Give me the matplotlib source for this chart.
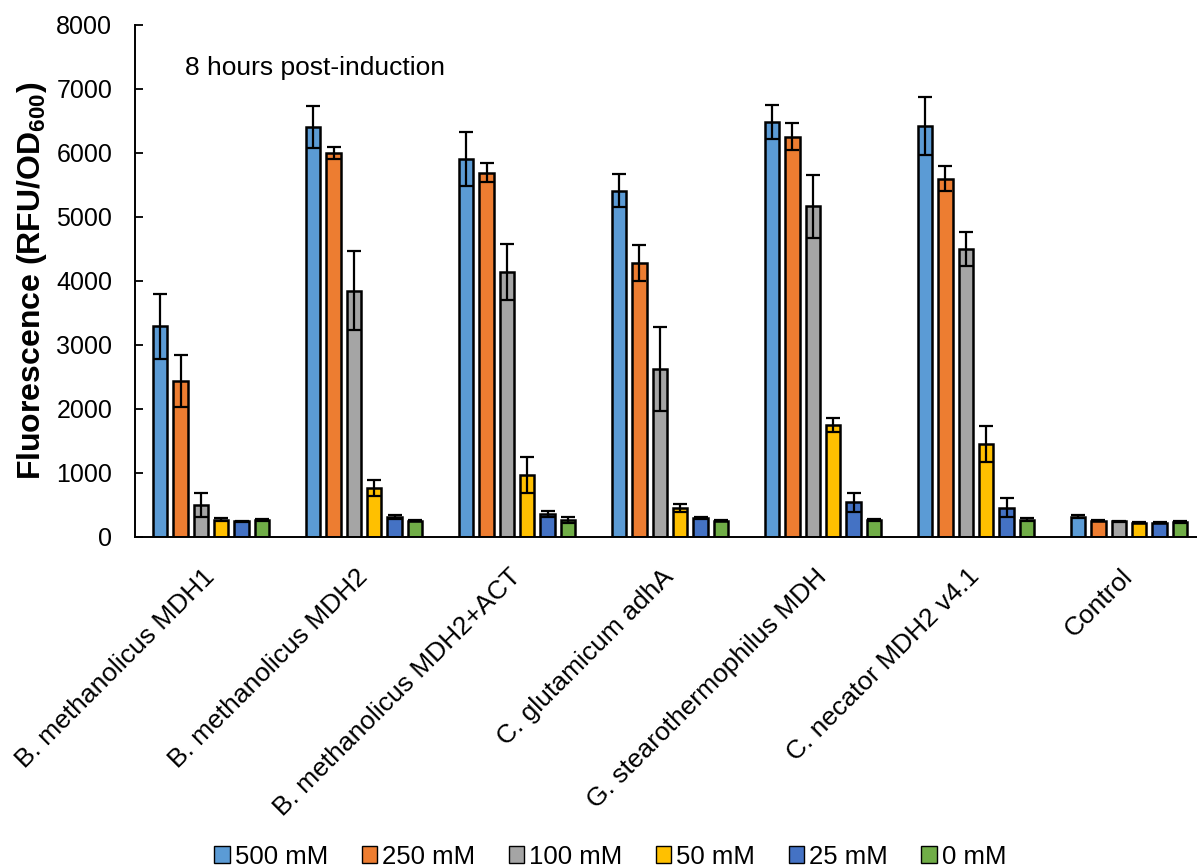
import matplotlib

matplotlib.use("Agg")
import matplotlib.pyplot as plt
import numpy as np
from matplotlib.patches import Patch

plt.rcParams["font.family"] = ["Liberation Sans", "DejaVu Sans"]
plt.rcParams["mathtext.fontset"] = "custom"
plt.rcParams["mathtext.rm"] = "Liberation Sans"
plt.rcParams["mathtext.bf"] = "Liberation Sans:bold"

strains = [
    "B. methanolicus MDH1",
    "B. methanolicus MDH2",
    "B. methanolicus MDH2+ACT",
    "C. glutamicum adhA",
    "G. stearothermophilus MDH",
    "C. necator MDH2 v4.1",
    "Control",
]
conc_labels = ["500 mM", "250 mM", "100 mM", "50 mM", "25 mM", "0 mM"]

# mean fluorescence per methanol concentration, one value per strain
mm500 = [3290, 6400, 5900, 5410, 6480, 6420, 315]
mm250 = [2430, 5995, 5690, 4280, 6255, 5595, 250]
mm100 = [495, 3845, 4135, 2625, 5165, 4500, 240]
mm50 = [265, 760, 970, 445, 1740, 1450, 220]
mm25 = [240, 305, 355, 295, 535, 455, 220]
mm0 = [255, 250, 265, 250, 265, 265, 230]

# standard deviations
mm500_err = [505, 330, 420, 260, 270, 450, 25]
mm250_err = [405, 95, 150, 285, 210, 195, 10]
mm100_err = [195, 620, 440, 655, 490, 270, 10]
mm50_err = [20, 125, 280, 60, 110, 280, 10]
mm25_err = [10, 30, 45, 15, 145, 150, 10]
mm0_err = [15, 10, 45, 10, 15, 25, 10]

series = [mm500, mm250, mm100, mm50, mm25, mm0]
errors = [mm500_err, mm250_err, mm100_err, mm50_err, mm25_err, mm0_err]
colors = ["#5B9BD5", "#ED7D31", "#A5A5A5", "#FFC000", "#4472C4", "#70AD47"]

fig = plt.figure(figsize=(11.97, 8.67), dpi=100)
ax = fig.add_axes([0.1124, 0.381, 0.8947, 0.5902])

x = np.arange(len(strains))
pitch = 0.133
width = 0.095
for j, (vals, errs, col) in enumerate(zip(series, errors, colors)):
    pos = x + (j - 2.5) * pitch
    ax.bar(pos, vals, width=width, color=col, edgecolor="black", linewidth=1.8, zorder=2)
    ax.errorbar(pos, vals, yerr=errs, fmt="none", ecolor="black", elinewidth=1.6,
                capsize=5.2, capthick=1.6, zorder=3)

ax.set_xlim(-0.5, len(strains) - 0.5)
ax.set_ylim(0, 8000)
ax.set_yticks(np.arange(0, 8001, 1000))
ax.tick_params(axis="y", direction="in", length=6, width=1.3, labelsize=18, pad=16)
ax.set_xticks(x)
ax.set_xticklabels(strains, rotation=45, ha="right", va="center",
                   rotation_mode="anchor", fontsize=19)
ax.tick_params(axis="x", length=0, pad=26)

for side in ("top", "right"):
    ax.spines[side].set_visible(False)
for side in ("left", "bottom"):
    ax.spines[side].set_linewidth(1.4)

ax.set_ylabel(r"Fluorescence (RFU/OD$_{\mathbf{600}}$)", fontsize=23, fontweight="bold")
ax.yaxis.set_label_coords(-0.080, 0.5)

ax.text(0.047, 0.916, "8 hours post-induction", transform=ax.transAxes,
        fontsize=19, ha="left", va="center")

handles = [Patch(facecolor=c, edgecolor="black", linewidth=1.0) for c in colors]
fig.legend(handles, conc_labels, loc="center", bbox_to_anchor=(0.51, 0.012),
           ncol=6, frameon=False, fontsize=18.5, handlelength=0.6, handleheight=0.6,
           handletextpad=0.2, columnspacing=1.3)

fig.savefig("out.png", dpi=100)
